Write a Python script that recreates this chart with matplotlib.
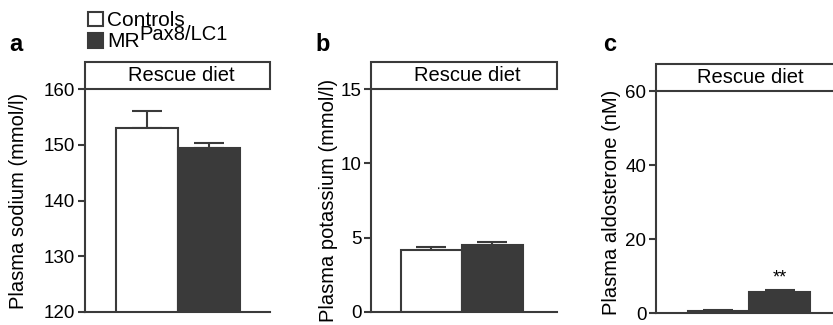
import matplotlib.pyplot as plt
from matplotlib.patches import Rectangle

plt.rcParams['font.family'] = ['Liberation Sans', 'DejaVu Sans']

groups = ['Controls', 'MR']
group_sup = 'Pax8/LC1'

sodium_mean = [153.0, 149.4]
sodium_err = [3.0, 1.0]
potassium_mean = [4.17, 4.48]
potassium_err = [0.18, 0.22]
aldo_mean = [0.6, 5.6]
aldo_err = [0.3, 0.7]

panel_letters = ['a', 'b', 'c']
ylabels = ['Plasma sodium (mmol/l)', 'Plasma potassium (mmol/l)',
           'Plasma aldosterone (nM)']
yticks_list = [[120, 130, 140, 150, 160], [0, 5, 10, 15], [0, 20, 40, 60]]
header = 'Rescue diet'

DARK = '#3a3a3a'
W, H = 833, 325

fig = plt.figure(figsize=(W / 100, H / 100), dpi=100)


def px_axes(left, right, top, bottom):
    return fig.add_axes([left / W, (H - bottom) / H, (right - left) / W, (bottom - top) / H])


axes = [px_axes(85, 270, 89, 312),
        px_axes(371, 557, 89, 312),
        px_axes(656, 833, 91, 313)]
xlims = [(-1.0, 1.98), (-0.99, 2.06), (-1.02, 1.87)]
label_x = [-0.31, -0.18, -0.20]
means = [sodium_mean, potassium_mean, aldo_mean]
errs = [sodium_err, potassium_err, aldo_err]

for i, ax in enumerate(axes):
    yt = yticks_list[i]
    ax.bar([0, 1], means[i], width=1.0, bottom=0, color=['white', DARK],
           edgecolor=DARK, linewidth=1.5, zorder=2)
    ax.errorbar([0, 1], means[i], yerr=[[0, 0], errs[i]], fmt='none',
                ecolor=DARK, elinewidth=1.5, capsize=11, capthick=1.5, zorder=1)
    ax.set_ylim(yt[0], yt[-1])
    ax.set_xlim(*xlims[i])
    ax.set_yticks(yt)
    ax.set_xticks([])
    for s in ['top', 'right']:
        ax.spines[s].set_visible(False)
    for s in ['left', 'bottom']:
        ax.spines[s].set_linewidth(1.5)
        ax.spines[s].set_color(DARK)
        ax.spines[s].set_zorder(3)
    ax.tick_params(axis='y', direction='out', length=5, width=1.5, color=DARK,
                   labelsize=13.5, pad=2)
    ax.set_ylabel(ylabels[i], fontsize=14.5)
    ax.yaxis.set_label_coords(label_x[i], 0.5)

    box_w = 1.0 if i < 2 else 1.2
    ax.add_patch(Rectangle((0, 1), box_w, 0.121, transform=ax.transAxes,
                           facecolor='white', edgecolor=DARK, linewidth=1.5,
                           clip_on=False))
    cx = 0.52 if i < 2 else (750 - 656) / 177
    ax.text(cx, 1.06, header, transform=ax.transAxes, ha='center',
            va='center', fontsize=14.5)

# significance mark
axes[2].annotate('**', (1, aldo_mean[1] + aldo_err[1]), xytext=(0, 2),
                 textcoords='offset points', ha='center', va='bottom', fontsize=13)

# panel letters
for letter, x in zip(panel_letters, [9, 315, 603]):
    fig.text(x / W, (H - 51) / H, letter, fontsize=17, fontweight='bold',
             va='baseline')

# legend
fig.patches.append(Rectangle((88 / W, (H - 26) / H), 15 / W, 14 / H,
                             transform=fig.transFigure, facecolor='white',
                             edgecolor=DARK, linewidth=1.5))
fig.patches.append(Rectangle((88 / W, (H - 47.5) / H), 15 / W, 15 / H,
                             transform=fig.transFigure, facecolor=DARK,
                             edgecolor=DARK, linewidth=1.5))
fig.text(107 / W, (H - 26) / H, groups[0], fontsize=15, va='baseline')
fig.text(107 / W, (H - 47) / H, groups[1], fontsize=15, va='baseline')
fig.text(139 / W, (H - 39.5) / H, group_sup, fontsize=14.5, va='baseline')

fig.savefig('out.png', dpi=100)
